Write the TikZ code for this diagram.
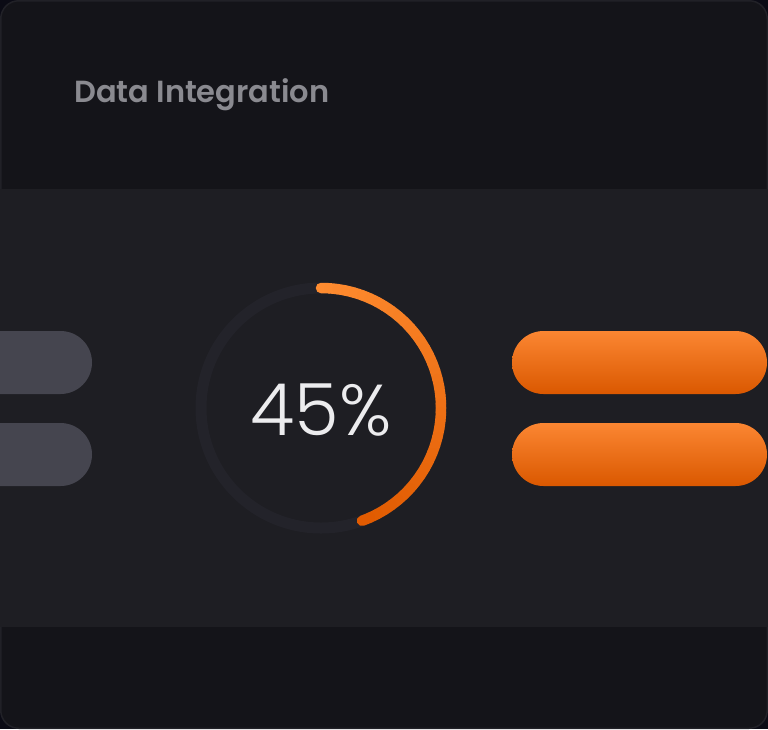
\documentclass[tikz,border=0pt]{standalone}
\usepackage{fontspec}
\setmainfont{Poppins}
\newfontfamily\lightfont{Poppins}[UprightFont={* Light}]
\newfontfamily\medfont{Poppins}[UprightFont={* SemiBold}]
\definecolor{outerbg}{HTML}{0B0B15}
\definecolor{cardbg}{HTML}{141419}
\definecolor{cardrim}{HTML}{212127}
\definecolor{bandbg}{HTML}{1E1E23}
\definecolor{titlegray}{HTML}{8A8A90}
\definecolor{pillgray}{HTML}{45454F}
\definecolor{ringgray}{HTML}{23232A}
\definecolor{pilltop}{HTML}{FB8632}
\definecolor{pillmid}{HTML}{E56100}
\definecolor{pillbot}{HTML}{DA5800}
\definecolor{arctop}{HTML}{FF8C30}
\definecolor{arcbot}{HTML}{E05A00}
\definecolor{pcttext}{HTML}{ECECEE}

\begin{document}
\begin{tikzpicture}[x=1pt,y=-1pt]
\tikzstyle{pill}=[rounded corners=31.5pt]
\tikzstyle{orangepill}=[pill,top color=pilltop,middle color=pillmid,bottom color=pillbot]
\useasboundingbox (0,0) rectangle (768,729);
\fill [outerbg] (0,0) rectangle (768,729);
\fill [cardbg,draw=cardrim,line width=1.5pt,rounded corners=18pt] (0.75,0.75) rectangle (767.25,728.25);
\fill [bandbg] (0,189) rectangle (768,627);
\node (title) [anchor=base west,inner sep=0pt,text=titlegray,font=\medfont\fontsize{30.5}{34}\selectfont] at (74,102) {Data Integration};
\fill [pillgray,pill] (-60,331) rectangle (92,394);
\fill [pillgray,pill] (-60,423) rectangle (92,486);
\shade [orangepill] (512,331) rectangle (767,394);
\shade [orangepill] (512,423) rectangle (767,486);
\coordinate (ctr) at (321,408);
\draw [ringgray,line width=11pt] (ctr) circle (120);
\foreach \i in {0,...,39} {
  \pgfmathsetmacro\ang{-90+4*\i}
  \pgfmathsetmacro\pct{100-2.5*\i}
  \draw [arctop!\pct!arcbot,line width=10.5pt,line cap=round] (ctr) ++(\ang:120) arc [start angle=\ang,end angle=\ang+4,radius=120];
}
\node (pct) [anchor=base,inner sep=0pt,text=pcttext,font=\lightfont\fontsize{72}{76}\selectfont] at (321,435) {45\%};
\end{tikzpicture}
\end{document}
